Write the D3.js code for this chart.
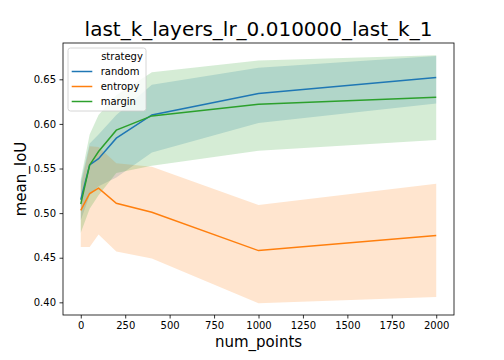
<!DOCTYPE html>
<html>
<head>
<meta charset="utf-8">
<script src="https://cdn.jsdelivr.net/npm/d3@7"></script>
<style>
  body { margin: 0; background: #fff; }
  text { font-family: "DejaVu Sans", sans-serif; fill: #000; }
</style>
</head>
<body>
<script>
var width = 504;
var height = 360;
var margin = {top: 43, right: 50, bottom: 45, left: 63};

// x values (num_points) shared by every strategy
var numPoints = [0, 50, 100, 200, 400, 1000, 2000];
var strategies = ["random", "entropy", "margin"];
var colors = ["#1f77b4", "#ff7f0e", "#2ca02c"];

// mean line and confidence band per strategy
var randomMean = [0.515, 0.554, 0.561, 0.584, 0.610, 0.634, 0.652];
var randomLow  = [0.492, 0.520, 0.530, 0.540, 0.568, 0.601, 0.623];
var randomHigh = [0.535, 0.578, 0.588, 0.610, 0.644, 0.663, 0.676];

var entropyMean = [0.503, 0.522, 0.528, 0.511, 0.501, 0.458, 0.475];
var entropyLow  = [0.462, 0.462, 0.476, 0.457, 0.449, 0.399, 0.406];
var entropyHigh = [0.530, 0.575, 0.574, 0.556, 0.552, 0.509, 0.533];

var marginMean = [0.510, 0.554, 0.569, 0.593, 0.609, 0.622, 0.630];
var marginLow  = [0.478, 0.505, 0.520, 0.545, 0.553, 0.570, 0.582];
var marginHigh = [0.538, 0.588, 0.610, 0.632, 0.658, 0.671, 0.677];

var xTicks = [0, 250, 500, 750, 1000, 1250, 1500, 1750, 2000];
var yTicks = [0.40, 0.45, 0.50, 0.55, 0.60, 0.65];

var series = [
  {name: "random", mean: randomMean, low: randomLow, high: randomHigh},
  {name: "entropy", mean: entropyMean, low: entropyLow, high: entropyHigh},
  {name: "margin", mean: marginMean, low: marginLow, high: marginHigh}
];

var svg = d3.select("body").append("svg")
    .attr("width", width)
    .attr("height", height);

svg.append("rect").attr("width", width).attr("height", height).attr("fill", "#fff");

var x = d3.scaleLinear().domain([-100, 2100]).range([margin.left, width - margin.right]);
var y = d3.scaleLinear().domain([0.3858, 0.6907]).range([height - margin.bottom, margin.top]);
var color = d3.scaleOrdinal().domain(strategies).range(colors);

var area = d3.area()
    .x(function(d) { return x(d.x); })
    .y0(function(d) { return y(d.low); })
    .y1(function(d) { return y(d.high); });

var line = d3.line()
    .x(function(d) { return x(d.x); })
    .y(function(d) { return y(d.y); });

// bands first, then lines on top (like matplotlib zorder)
svg.append("g").selectAll("path")
    .data(series)
    .enter().append("path")
      .attr("d", function(s) {
        return area(numPoints.map(function(v, i) { return {x: v, low: s.low[i], high: s.high[i]}; }));
      })
      .attr("fill", function(s) { return color(s.name); })
      .attr("fill-opacity", 0.2);

svg.append("g").selectAll("path")
    .data(series)
    .enter().append("path")
      .attr("d", function(s) {
        return line(numPoints.map(function(v, i) { return {x: v, y: s.mean[i]}; }));
      })
      .attr("fill", "none")
      .attr("stroke", function(s) { return color(s.name); })
      .attr("stroke-width", 1.5);

// axes
var xAxis = svg.append("g")
    .attr("transform", "translate(0," + (height - margin.bottom) + ")")
    .call(d3.axisBottom(x).tickValues(xTicks).tickFormat(d3.format("d")).tickSize(3.5).tickPadding(3.5));
var yAxis = svg.append("g")
    .attr("transform", "translate(" + margin.left + ",0)")
    .call(d3.axisLeft(y).tickValues(yTicks).tickFormat(d3.format(".2f")).tickSize(3.5).tickPadding(3.5));

[xAxis, yAxis].forEach(function(a) {
  a.select(".domain").remove();
  a.selectAll("line").attr("stroke", "#000").attr("stroke-width", 0.8);
  a.selectAll("text").attr("font-size", 10).attr("font-family", "DejaVu Sans").attr("fill", "#000");
});

// frame
svg.append("rect")
    .attr("x", margin.left)
    .attr("y", margin.top)
    .attr("width", width - margin.left - margin.right)
    .attr("height", height - margin.top - margin.bottom)
    .attr("fill", "none")
    .attr("stroke", "#000")
    .attr("stroke-width", 0.8);

// titles
svg.append("text")
    .attr("x", (margin.left + width - margin.right) / 2)
    .attr("y", 36)
    .attr("text-anchor", "middle")
    .attr("font-size", 20)
    .text("last_k_layers_lr_0.010000_last_k_1");

svg.append("text")
    .attr("x", (margin.left + width - margin.right) / 2)
    .attr("y", 347)
    .attr("text-anchor", "middle")
    .attr("font-size", 15)
    .text("num_points");

svg.append("text")
    .attr("transform", "translate(26," + ((margin.top + height - margin.bottom) / 2) + ") rotate(-90)")
    .attr("text-anchor", "middle")
    .attr("font-size", 15)
    .text("mean_IoU");

// legend
var legend = svg.append("g").attr("transform", "translate(68,48)");
legend.append("rect")
    .attr("width", 78)
    .attr("height", 63)
    .attr("rx", 2.5)
    .attr("fill", "#fff")
    .attr("fill-opacity", 0.8)
    .attr("stroke", "#ccc")
    .attr("stroke-width", 0.8);

legend.append("text")
    .attr("x", 54)
    .attr("y", 12.2)
    .attr("text-anchor", "middle")
    .attr("font-size", 10)
    .text("strategy");

var item = legend.selectAll(".item")
    .data(strategies)
    .enter().append("g")
      .attr("class", "item")
      .attr("transform", function(d, i) { return "translate(0," + (23.5 + i * 15) + ")"; });

item.append("line")
    .attr("x1", 3.7).attr("x2", 24.3)
    .attr("stroke", function(d) { return color(d); })
    .attr("stroke-width", 1.5);

item.append("text")
    .attr("x", 32.7)
    .attr("y", 3.6)
    .attr("font-size", 10)
    .text(function(d) { return d; });
</script>
</body>
</html>
